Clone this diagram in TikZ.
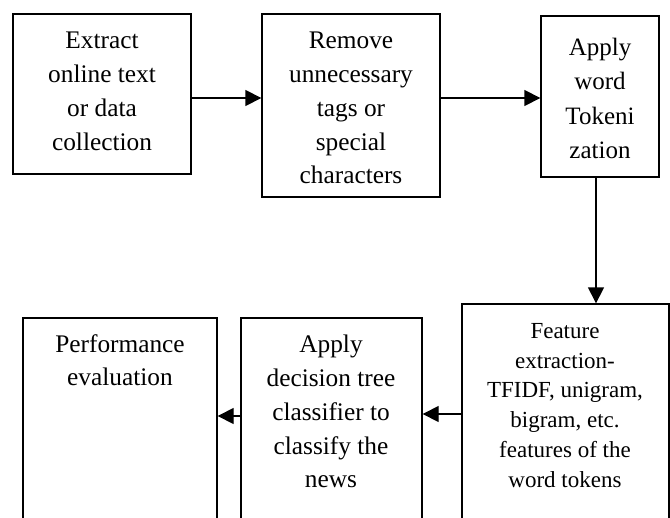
\documentclass[tikz,border=0pt]{standalone}
\usepackage{fontspec}
\setmainfont{Liberation Serif}
\usetikzlibrary{arrows.meta,fit}
\begin{document}
\begin{tikzpicture}[x=0.75pt,y=-0.75pt,
  box/.style={draw, line width=1pt, inner sep=0pt},
  txt/.style={anchor=north, align=center, inner sep=0pt, font=\fontsize{19}{25.3}\selectfont},
  txtb/.style={anchor=north, align=center, inner sep=0pt, font=\fontsize{18.75}{25.7}\selectfont},
  txts/.style={anchor=north, align=center, inner sep=0pt, font=\fontsize{17.25}{22.35}\selectfont},
  arr/.style={line width=1pt, -{Triangle[length=12pt,width=12pt]}}]
\useasboundingbox (0,0) rectangle (670,517);
\begin{scope}
\clip (0,0) rectangle (670,517);
\node[box, fit={(13,14)(191,174)}] (b1) {};
\node[box, fit={(262,14)(440,197)}] (b2) {};
\node[box, fit={(541,16)(659,177)}] (b3) {};
\node[box, fit={(462,304)(669,540)}] (b4) {};
\node[box, fit={(241,318)(422,540)}] (b5) {};
\node[box, fit={(23,318)(217,540)}] (b6) {};

\node[txt] (t1) at (102,32) {Extract\\online text\\or data\\collection};
\node[txt] (t2) at (351,32) {Remove\\unnecessary\\tags or\\special\\characters};
\node[txtb] (t3) at (600,38) {Apply\\word\\Tokeni\\zation};
\node[txts] (t4) at (565,323) {Feature\\extraction-\\TFIDF, unigram,\\bigram, etc.\\features of the\\word tokens};
\node[txt] (t5) at (331,335) {Apply\\decision tree\\classifier to\\classify the\\news};
\node[txt] (t6) at (120,334) {Performance\\evaluation};

\draw[arr] (b1.east |- 0,98) -- (b2.west |- 0,98);
\draw[arr] (b2.east |- 0,98) -- (b3.west |- 0,98);
\draw[arr] (b3.south -| 596,0) -- (b4.north -| 596,0);
\draw[arr] (b4.west |- 0,414) -- (b5.east |- 0,414);
\draw[arr] (b5.west |- 0,416) -- (b6.east |- 0,416);
\end{scope}
\end{tikzpicture}
\end{document}
